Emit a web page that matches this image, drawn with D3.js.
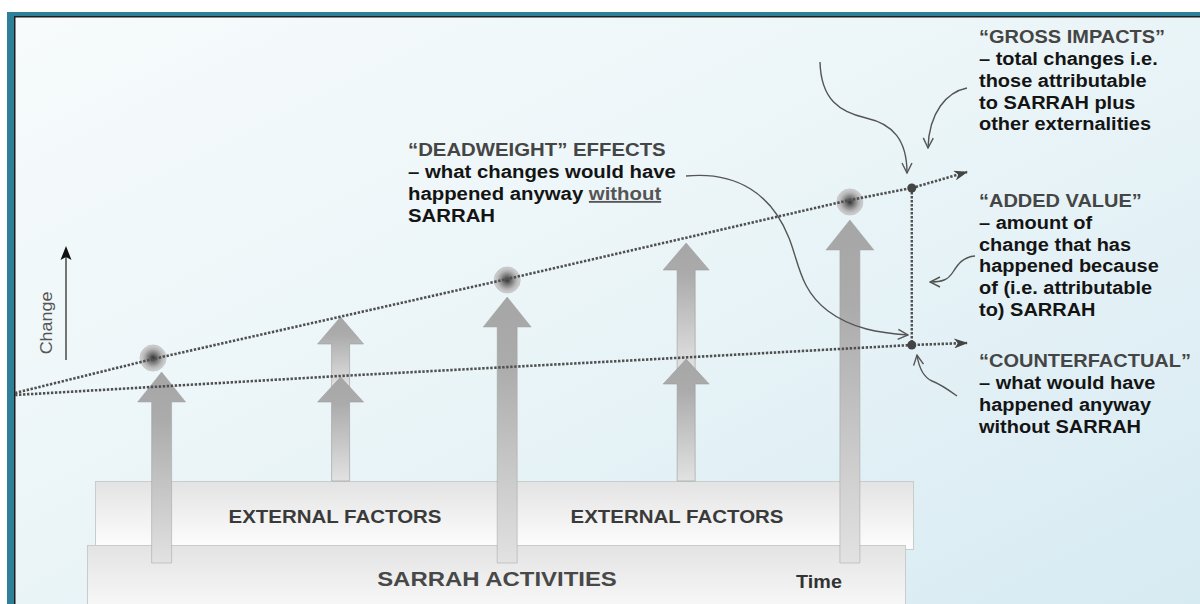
<!DOCTYPE html>
<html>
<head>
<meta charset="utf-8">
<script src="https://cdn.jsdelivr.net/npm/d3@7"></script>
<style>
html,body{margin:0;padding:0;background:#fff;}
svg{display:block;}
text{font-family:"Liberation Sans",Arial,sans-serif;}
</style>
</head>
<body>
<div id="chart"></div>
<script>
// ---------------- DATA ----------------
// time axis (0..10) and change axis (0..100)
const grossT = [0, 1.45, 5.17, 8.77, 9.42, 10];
const grossV = [42.5, 51, 71, 90.75, 93.75, 97.75];
const counterT = [0, 3.41, 6.36, 9.42, 10];
const counterV = [42, 46.75, 50.5, 54.5, 55];
const circleT = [1.45, 5.17, 8.77];
const circleV = [51.25, 70.75, 90.25];
const sarrahT = [1.54, 5.17, 8.77];
const sarrahTip = [47.75, 66.5, 85.75];
const sarrahBase = [0, 0, 0];
const externalT = [3.42, 7.05];
const externalUpperTip = [61.5, 80];
const externalLowerTip = [46.5, 51];
const externalBase = [20.5, 20.5];
const markerT = [9.42, 9.42];
const markerV = [93.75, 54.5];

const deadweightLines = ["\u201CDEADWEIGHT\u201D EFFECTS", "\u2013 what changes would have", "happened anyway ", "SARRAH"];
const grossLines = ["\u201CGROSS IMPACTS\u201D", "\u2013 total changes i.e.", "those attributable", "to SARRAH plus", "other externalities"];
const addedLines = ["\u201CADDED VALUE\u201D", "\u2013 amount of", "change that has", "happened because", "of (i.e. attributable", "to) SARRAH"];
const counterLines = ["\u201CCOUNTERFACTUAL\u201D", "\u2013 what would have", "happened anyway", "without SARRAH"];
const boxLabels = ["EXTERNAL FACTORS", "EXTERNAL FACTORS"];
const baseLabel = "SARRAH ACTIVITIES";
const timeLabel = "Time";
const changeLabel = "Change";

// ---------------- SETUP ----------------
const W = 1200, H = 604;
const x = d3.scaleLinear().domain([0, 10]).range([15, 967]);
const y = d3.scaleLinear().domain([0, 100]).range([563, 163]);

const svg = d3.select("#chart").append("svg").attr("width", W).attr("height", H);
const defs = svg.append("defs");

function linGrad(id, x2, y2, stops) {
  const g = defs.append("linearGradient").attr("id", id)
    .attr("x1", 0).attr("y1", 0).attr("x2", x2).attr("y2", y2);
  stops.forEach(s => g.append("stop").attr("offset", s[0]).attr("stop-color", s[1]));
}
linGrad("bgGrad", 1, 1, [[0, "#f7fbfc"], [0.45, "#ebf5f8"], [1, "#d6eaf2"]]);
linGrad("boxGrad", 0, 1, [[0, "#e3e3e3"], [1, "#fefefe"]]);
linGrad("arrowGrad", 0, 1, [[0, "#a6a6a6"], [0.25, "#ababab"], [1, "#e2e2e2"]]);
const rg = defs.append("radialGradient").attr("id", "circGrad");
[[0, "#2f2f2f"], [0.3, "#6e6e6e"], [0.7, "#b4b4b4"], [1, "#d2d2d2"]]
  .forEach(s => rg.append("stop").attr("offset", s[0]).attr("stop-color", s[1]));

defs.append("marker").attr("id", "chev").attr("markerUnits", "userSpaceOnUse")
  .attr("viewBox", "0 0 14 10").attr("refX", 13).attr("refY", 5)
  .attr("markerWidth", 14).attr("markerHeight", 10).attr("orient", "auto")
  .append("path").attr("d", "M0,0 L14,5 L0,10 L4,5 Z").attr("fill", "#444");
defs.append("marker").attr("id", "openV").attr("markerUnits", "userSpaceOnUse")
  .attr("viewBox", "0 0 12 12").attr("refX", 11).attr("refY", 6)
  .attr("markerWidth", 12).attr("markerHeight", 12).attr("orient", "auto")
  .append("path").attr("d", "M1,1 L11,6 L1,11").attr("fill", "none")
  .attr("stroke", "#555").attr("stroke-width", 1.4);

// ---------------- FRAME & BACKGROUND ----------------
svg.append("rect").attr("x", 7).attr("y", 12).attr("width", W).attr("height", H).attr("fill", "#2e8098");
svg.append("rect").attr("x", 14).attr("y", 16).attr("width", W).attr("height", H).attr("fill", "#1e1e1e");
svg.append("rect").attr("x", 15.5).attr("y", 17.5).attr("width", W).attr("height", H).attr("fill", "url(#bgGrad)");

// ---------------- BOXES ----------------
svg.append("rect").attr("x", 95.5).attr("y", 481.5).attr("width", 818).attr("height", 68)
  .attr("fill", "url(#boxGrad)").attr("stroke", "#c8cccd").attr("stroke-width", 1);
svg.append("rect").attr("x", 87.5).attr("y", 545.5).attr("width", 818).attr("height", 80)
  .attr("fill", "url(#boxGrad)").attr("stroke", "#c8cccd").attr("stroke-width", 1);

// ---------------- BLOCK ARROWS ----------------
function blockArrow(cx, yTip, yBase, headW, headH, shaftW) {
  const hw = headW / 2, sw = shaftW / 2, yh = yTip + headH;
  return `M${cx},${yTip} L${cx + hw},${yh} L${cx + sw},${yh} L${cx + sw},${yBase} L${cx - sw},${yBase} L${cx - sw},${yh} L${cx - hw},${yh} Z`;
}
const arrowG = svg.append("g");
// external factor arrows: upper (stacked) then lower
externalT.forEach((t, i) => {
  const cx = x(t);
  const lowerTipY = y(externalLowerTip[i]);
  arrowG.append("path")
    .attr("d", blockArrow(cx, y(externalUpperTip[i]), lowerTipY + 10, 46, 27, 18))
    .attr("fill", "url(#arrowGrad)").attr("stroke", "#9c9c9c").attr("stroke-width", 0.6);
  arrowG.append("path")
    .attr("d", blockArrow(cx, lowerTipY, y(externalBase[i]), 46, 25, 18))
    .attr("fill", "url(#arrowGrad)").attr("stroke", "#9c9c9c").attr("stroke-width", 0.6);
});
// SARRAH arrows
sarrahT.forEach((t, i) => {
  arrowG.append("path")
    .attr("d", blockArrow(x(t), y(sarrahTip[i]), y(sarrahBase[i]), 48, 30, 20))
    .attr("fill", "url(#arrowGrad)").attr("stroke", "#a0a0a0").attr("stroke-width", 0.5);
});

// ---------------- CIRCLES ----------------
svg.append("g").selectAll("circle").data(circleT).join("circle")
  .attr("cx", d => x(d)).attr("cy", (d, i) => y(circleV[i])).attr("r", 13)
  .attr("fill", "url(#circGrad)").attr("stroke", "#c4c8ca").attr("stroke-width", 1);

// ---------------- DOTTED LINES ----------------
const line = d3.line().x(d => x(d[0])).y(d => y(d[1]));
const grossPts = grossT.map((t, i) => [t, grossV[i]]);
const counterPts = counterT.map((t, i) => [t, counterV[i]]);
[grossPts, counterPts].forEach(pts => {
  svg.append("path").attr("d", line(pts)).attr("fill", "none")
    .attr("stroke", "#505050").attr("stroke-width", 2.6)
    .attr("stroke-dasharray", "2.4,1.6").attr("marker-end", "url(#chev)");
});
// vertical "added value" dotted line
svg.append("line")
  .attr("x1", x(markerT[0])).attr("y1", y(markerV[0]))
  .attr("x2", x(markerT[1])).attr("y2", y(markerV[1]))
  .attr("stroke", "#505050").attr("stroke-width", 2.4).attr("stroke-dasharray", "2.4,1.6");
svg.append("g").selectAll("circle").data(markerT).join("circle")
  .attr("cx", d => x(d)).attr("cy", (d, i) => y(markerV[i])).attr("r", 4.5).attr("fill", "#444");

// ---------------- CHANGE AXIS ARROW ----------------
svg.append("line").attr("x1", 66).attr("y1", 360).attr("x2", 66).attr("y2", 256)
  .attr("stroke", "#555").attr("stroke-width", 1.6);
svg.append("path").attr("d", "M66,246 L71.5,260 L66,257 L60.5,260 Z").attr("fill", "#111");
svg.append("text").attr("transform", "translate(52,323) rotate(-90) scale(1.12,1)")
  .attr("text-anchor", "middle").attr("font-size", 16).attr("fill", "#555")
  .text(changeLabel);

// ---------------- CURVED CALLOUTS ----------------
const curves = [
  "M820,62 C821,100 840,112 866,118 C893,124 907,140 907,173",
  "M967,88 C947,92 929,112 928,148",
  "M975,256 C963,257 958,264 953,272 C948,280 942,282 930,282",
  "M957,396 C946,388 940,384 932,381 C923,377 919,368 917,355",
  "M686,176 C738,171 772,195 789,238 C799,263 800,290 828,311 C852,329 880,333 908,335"
];
svg.append("g").selectAll("path").data(curves).join("path")
  .attr("d", d => d).attr("fill", "none").attr("stroke", "#555").attr("stroke-width", 1.4)
  .attr("marker-end", "url(#openV)");

// ---------------- TEXT BLOCKS ----------------
function textBlock(x0, ys, lines, size, sx, colors) {
  const g = svg.append("g").attr("transform", `translate(${x0},0) scale(${sx},1)`);
  lines.forEach((l, i) => {
    g.append("text").attr("x", 0).attr("y", ys[i]).attr("font-size", size)
      .attr("font-weight", "bold").attr("fill", i === 0 ? colors[0] : colors[1]).text(l);
  });
  return g;
}
const dw = textBlock(408, [156, 178, 200, 222], deadweightLines, 18.5, 1.1, ["#454545", "#141414"]);
dw.select("text:nth-child(3)").append("tspan").attr("fill", "#555")
  .attr("text-decoration", "underline").text("without");
textBlock(979, [43, 65, 87, 109, 130], grossLines, 18.5, 1.08, ["#454545", "#141414"]);
textBlock(979, [207, 229, 251, 272, 294, 316], addedLines, 18.5, 1.08, ["#454545", "#141414"]);
textBlock(979, [367, 389, 411, 433], counterLines, 18.5, 1.08, ["#454545", "#141414"]);

function centered(cx, by, label, size, sx, color) {
  svg.append("text").attr("transform", `translate(${cx},${by}) scale(${sx},1)`)
    .attr("text-anchor", "middle").attr("font-size", size).attr("font-weight", "bold")
    .attr("fill", color).text(label);
}
centered(335, 523, boxLabels[0], 17.5, 1.17, "#3a3a3a");
centered(677, 523, boxLabels[1], 17.5, 1.17, "#3a3a3a");
centered(497, 586, baseLabel, 21, 1.14, "#484848");
centered(819, 588, timeLabel, 17.5, 1.13, "#333");
</script>
</body>
</html>
